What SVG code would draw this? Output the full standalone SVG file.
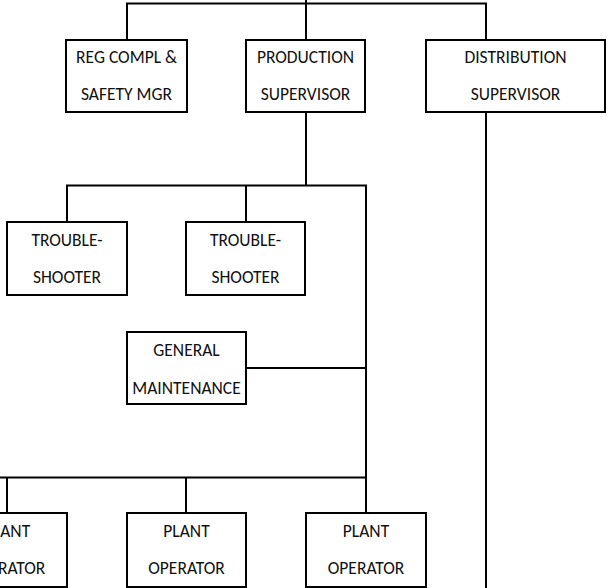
<svg xmlns="http://www.w3.org/2000/svg" width="608" height="588" viewBox="0 0 608 588">
<style>
.box{fill:#fff;stroke:#000;stroke-width:2}
.ln{fill:none;stroke:#000;stroke-width:2}
text{font-family:Carlito,Lato,"Liberation Sans",sans-serif;font-size:17.5px;fill:#111;text-anchor:middle}
</style>
<rect width="608" height="588" fill="#fff"/>
<g id="connectors">
<path class="ln" d="M306,0V40 M127,40V3.5H486V40"/>
<path class="ln" d="M306,112V185.5 M67,222V185.5H366V477.5 M246,185.5V222"/>
<path class="ln" d="M246,368H366"/>
<path class="ln" d="M0,477.5H366V513 M7,477.5V513 M186,477.5V513"/>
<path class="ln" d="M486,112V588"/>
</g>
<g id="reg"><rect class="box" x="66" y="40" width="121" height="72"/><text x="126.5" y="63">REG COMPL &amp;</text><text x="126.5" y="100">SAFETY MGR</text></g>
<g id="prod"><rect class="box" x="246" y="40" width="119" height="72"/><text x="305.5" y="63">PRODUCTION</text><text x="305.5" y="100">SUPERVISOR</text></g>
<g id="dist"><rect class="box" x="426" y="40" width="179" height="72"/><text x="515.5" y="63">DISTRIBUTION</text><text x="515.5" y="100">SUPERVISOR</text></g>
<g id="ts1"><rect class="box" x="7" y="222" width="120" height="73"/><text x="67" y="246">TROUBLE-</text><text x="67" y="283">SHOOTER</text></g>
<g id="ts2"><rect class="box" x="186" y="222" width="119" height="73"/><text x="245.5" y="246">TROUBLE-</text><text x="245.5" y="283">SHOOTER</text></g>
<g id="gm"><rect class="box" x="127" y="332" width="119" height="72"/><text x="186.5" y="356">GENERAL</text><text x="186.5" y="394">MAINTENANCE</text></g>
<g id="po1"><rect class="box" x="-53" y="513" width="120" height="74"/><text x="7" y="537">PLANT</text><text x="7" y="574">OPERATOR</text></g>
<g id="po2"><rect class="box" x="127" y="513" width="119" height="74"/><text x="186.5" y="537">PLANT</text><text x="186.5" y="574">OPERATOR</text></g>
<g id="po3"><rect class="box" x="306" y="513" width="120" height="74"/><text x="366" y="537">PLANT</text><text x="366" y="574">OPERATOR</text></g>
</svg>
